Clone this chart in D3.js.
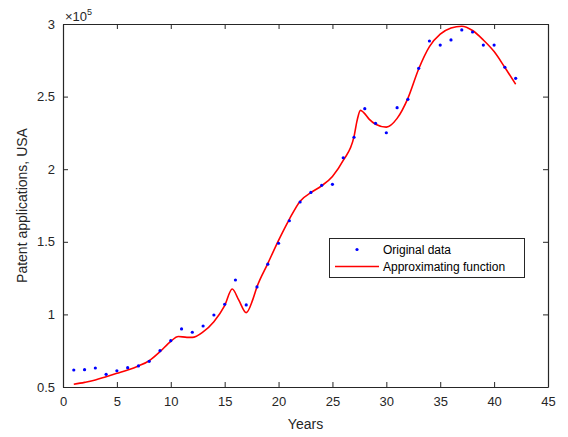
<!DOCTYPE html>
<html>
<head>
<meta charset="utf-8">
<script src="https://cdn.jsdelivr.net/npm/d3@7"></script>
<style>
  html, body { margin: 0; padding: 0; background: #fff; }
  svg { display: block; font-family: "Liberation Sans", Arial, Helvetica, sans-serif; }
</style>
</head>
<body>
<svg id="chart" width="568" height="437"></svg>
<script>
// ---- data ----
const years = [1,2,3,4,5,6,7,8,9,10,11,12,13,14,15,16,17,18,19,20,21,22,23,24,25,26,27,28,29,30,31,32,33,34,35,36,37,38,39,40,41,42];
const originalData = [61700,61900,63100,58700,61200,63300,64500,67700,75000,81900,90000,87700,92000,99600,107000,123700,106500,118900,134600,149000,164500,177400,184000,188900,189600,207900,222000,241700,231600,225100,242400,248100,269500,288300,285500,289000,295900,294500,285500,285500,270200,262600];
const fitYears = [1,2,3,4,5,6,7,8,9,10,10.7,11.5,12,13,14,15,15.7,16.3,17,17.6,18,19,20,21,22,23,24,25,26,27,27.3,27.6,27.9,28.4,29,30,31,32,33,34,35,36,37,38,39,40,41,42];
const fitValues = [51900,53200,54800,57100,59400,61700,64500,68100,74300,81500,84800,84200,84200,88000,95000,106000,117500,110000,101200,110000,119000,135000,151000,165500,178000,183800,188600,195000,206000,222400,234000,240500,239000,234500,231000,229000,235000,248800,269000,284400,293000,297200,298500,295500,289000,281000,270000,258500];
const xTicks = [0,5,10,15,20,25,30,35,40,45];
const yTicks = [50000,100000,150000,200000,250000,300000];
const xLabel = "Years";
const yLabel = "Patent applications, USA";
const legendLabels = ["Original data", "Approximating function"];

// ---- layout ----
const svg = d3.select("#chart");
const L = 63, R = 548, T = 24, B = 387;
const axisColor = "#262626";
const x = d3.scaleLinear().domain([0, 45]).range([L, R]);
const y = d3.scaleLinear().domain([50000, 300000]).range([B, T]);
const fmtY = v => d3.format("")(+(v / 1e5).toFixed(1));

const gx = svg.append("g").attr("transform", `translate(0,${B})`)
  .call(d3.axisBottom(x).tickValues(xTicks).tickSizeInner(-5).tickSizeOuter(0).tickPadding(8));
const gxt = svg.append("g").attr("transform", `translate(0,${T})`)
  .call(d3.axisTop(x).tickValues(xTicks).tickSizeInner(-5).tickSizeOuter(0).tickFormat(""));
const gy = svg.append("g").attr("transform", `translate(${L},0)`)
  .call(d3.axisLeft(y).tickValues(yTicks).tickSizeInner(-5).tickSizeOuter(0).tickPadding(8).tickFormat(fmtY));
const gyr = svg.append("g").attr("transform", `translate(${R},0)`)
  .call(d3.axisRight(y).tickValues(yTicks).tickSizeInner(-5).tickSizeOuter(0).tickFormat(""));

[gx, gxt, gy, gyr].forEach(g => {
  g.selectAll("path.domain").attr("stroke", axisColor).attr("stroke-width", 1.2);
  g.selectAll(".tick line").attr("stroke", axisColor).attr("stroke-width", 1);
  g.selectAll(".tick text").attr("fill", axisColor).attr("font-size", 13)
    .attr("font-family", "'Liberation Sans', Arial, sans-serif");
});
gx.selectAll(".tick text").attr("dy", "0.85em");

// exponent label
const ex = svg.append("text").attr("x", L + 2).attr("y", 21)
  .attr("fill", axisColor).attr("font-size", 13);
ex.append("tspan").text("\u00d710");
ex.append("tspan").attr("font-size", 9).attr("dy", -6).text("5");

// axis labels
svg.append("text").attr("x", (L + R) / 2).attr("y", 429).attr("text-anchor", "middle")
  .attr("fill", axisColor).attr("font-size", 14).text(xLabel);
svg.append("text").attr("transform", `translate(27,${(T + B) / 2}) rotate(-90)`)
  .attr("text-anchor", "middle").attr("fill", axisColor).attr("font-size", 14).text(yLabel);

// fitted curve
const line = d3.line().x((d, i) => x(fitYears[i])).y(d => y(d)).curve(d3.curveMonotoneX);
svg.append("path").datum(fitValues).attr("d", line)
  .attr("fill", "none").attr("stroke", "#ff0000").attr("stroke-width", 1.6);

// original data points
svg.append("g").selectAll("circle").data(originalData).join("circle")
  .attr("cx", (d, i) => x(years[i])).attr("cy", d => y(d)).attr("r", 1.6).attr("fill", "#0000ff");

// legend
const lg = svg.append("g");
lg.append("rect").attr("x", 329.5).attr("y", 238.5).attr("width", 195).attr("height", 39)
  .attr("fill", "#fff").attr("stroke", axisColor).attr("stroke-width", 1);
lg.append("circle").attr("cx", 357).attr("cy", 249.5).attr("r", 1.6).attr("fill", "#0000ff");
lg.append("line").attr("x1", 335).attr("x2", 379).attr("y1", 266.5).attr("y2", 266.5)
  .attr("stroke", "#ff0000").attr("stroke-width", 1.6);
lg.append("text").attr("x", 383).attr("y", 253.5).attr("font-size", 12).attr("fill", "#000").text(legendLabels[0]);
lg.append("text").attr("x", 383).attr("y", 270.5).attr("font-size", 12).attr("fill", "#000").text(legendLabels[1]);
</script>
</body>
</html>
